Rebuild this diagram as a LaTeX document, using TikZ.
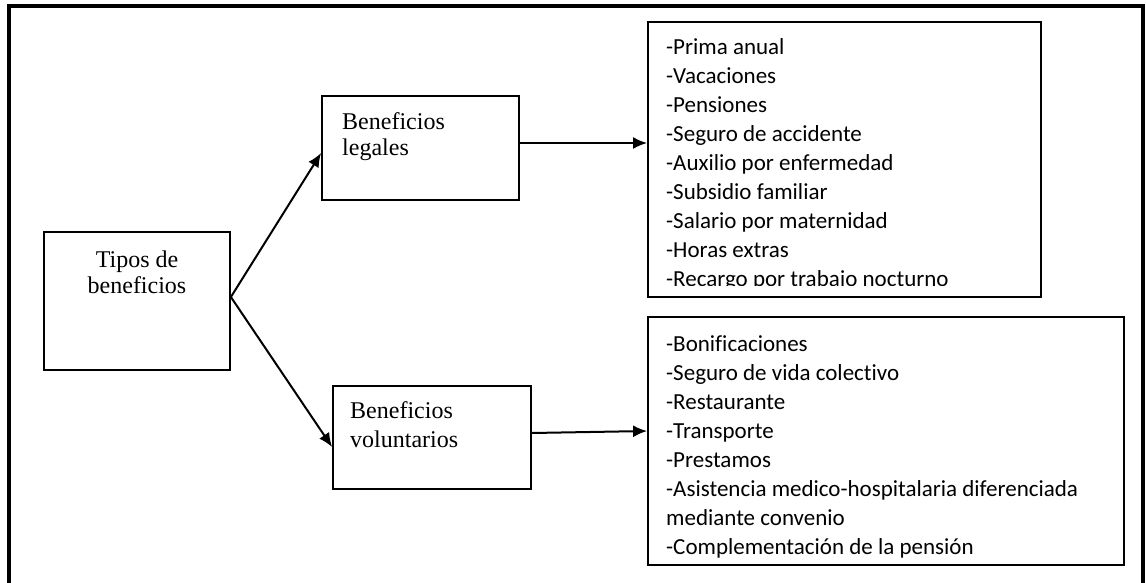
\documentclass[tikz,border=0pt]{standalone}
\usepackage{fontspec}
\setmainfont{Liberation Serif}
\newfontfamily\listfont[Ligatures=NoCommon]{Carlito}
\usetikzlibrary{calc}
\usetikzlibrary{arrows.meta}
\tikzstyle{box}=[draw, line width=1.8pt, inner sep=0pt]
\tikzstyle{title}=[anchor=base west, inner sep=0pt, font=\fontsize{24}{27}\selectfont]
\tikzstyle{item}=[anchor=base west, inner sep=0pt, font=\listfont\fontsize{23}{29}\selectfont]
\tikzstyle{flecha}=[line width=2pt, -{Latex[length=14pt,width=12pt]}]

\begin{document}
\begin{tikzpicture}[x=1pt, y=-1pt]
		\useasboundingbox (0, 0) rectangle (1146, 582);
		\draw[line width=3.5pt] (9, 600) -- (9, 6) -- (1143, 6) -- (1143, 600);
		% cajas
		\node(tipos)[box, minimum width=186pt, minimum height=138pt] at (137, 301) {};
		\node(legales)[box, minimum width=197pt, minimum height=104pt] at (420.5, 148) {};
		\node(voluntarios)[box, minimum width=198pt, minimum height=103pt] at (432, 437.5) {};
		\node(lista1)[box, minimum width=393pt, minimum height=275pt] at (844.5, 159.5) {};
		\node(lista2)[box, minimum width=476pt, minimum height=248pt] at (886, 441) {};
		% textos
		\node(t1)[title, anchor=base] at (137, 267) {Tipos de};
		\node(t2)[title, anchor=base] at (137, 293) {beneficios};
		\node(l1)[title] at (342, 129) {Beneficios};
		\node(l2)[title] at (342, 155) {legales};
		\node(v1)[title] at (350, 418) {Beneficios};
		\node(v2)[title] at (350, 447) {voluntarios};
		\begin{scope}
		\clip (648, 22) rectangle (1041, 285);
		\foreach \t [count=\i] in {-Prima anual, -Vacaciones, -Pensiones, -Seguro de accidente, -Auxilio por enfermedad, -Subsidio familiar, -Salario por maternidad, -Horas extras, -Recargo por trabajo nocturno}
			\node(a\i)[item] at (666, 54+29.1*\i-29.1) {\t};
		\end{scope}
		\begin{scope}
		\clip (648, 317) rectangle (1124, 557);
		\foreach \t [count=\i] in {-Bonificaciones, -Seguro de vida colectivo, -Restaurante, -Transporte, -Prestamos, -Asistencia medico-hospitalaria diferenciada, mediante convenio, -Complementación de la pensión}
			\node(b\i)[item] at (666, 351+29*\i-29) {\t};
		\end{scope}
		% flechas
		\draw[flecha] ([yshift=4pt]tipos.east) -- ([yshift=-5pt]legales.west);
		\draw[flecha] ([yshift=4pt]tipos.east) -- ([yshift=-9.5pt]voluntarios.west);
		\draw[flecha] ([yshift=5pt]legales.east) -- ([yshift=16.5pt]lista1.west);
		\draw[flecha] ([yshift=4.5pt]voluntarios.east) -- ([yshift=10pt]lista2.west);
		\end{tikzpicture}
\end{document}
